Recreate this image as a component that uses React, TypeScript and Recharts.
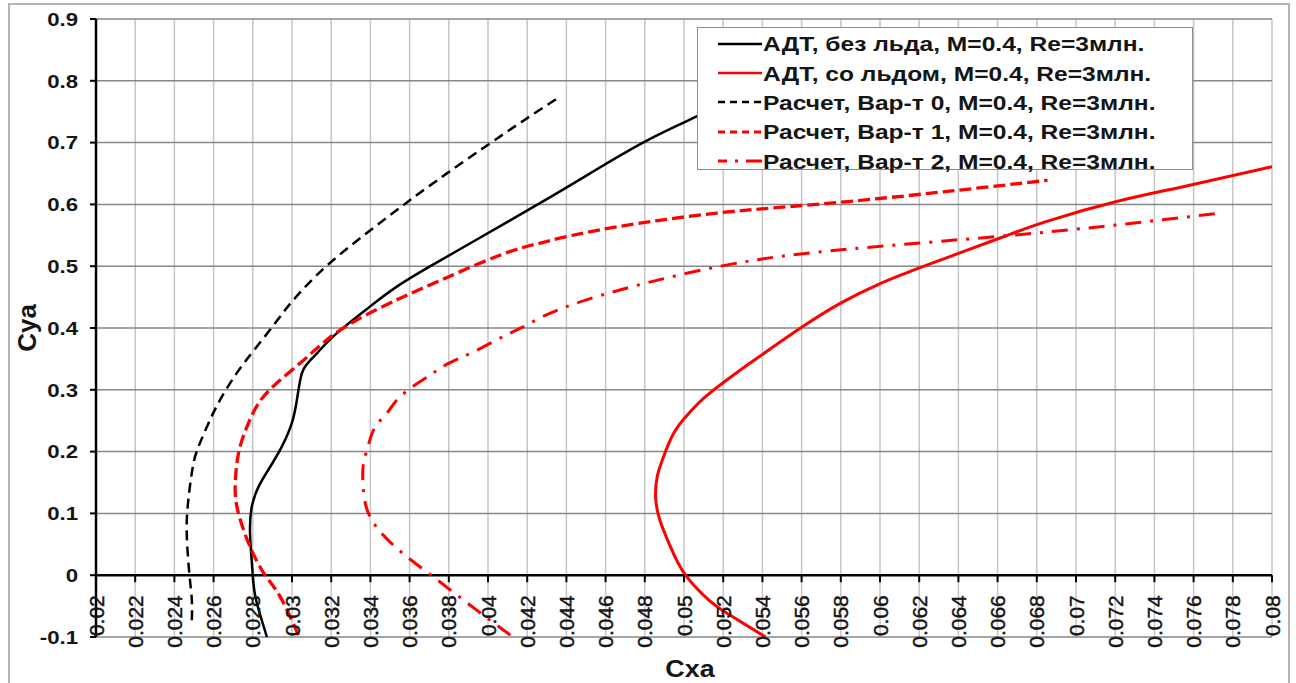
import React from 'react'
import {
  LineChart,
  Line,
  XAxis,
  YAxis,
  CartesianGrid,
  ReferenceLine,
  Legend,
  Label,
} from 'recharts'

// Cxa / Cya polars, ordered by Cya
const adtClean = [
  [0.02872, -0.1], [0.02817, -0.0405], [0.028, 0], [0.02786, 0.0675], [0.02795, 0.111],
  [0.02829, 0.143], [0.02889, 0.1755], [0.02948, 0.208], [0.02999, 0.246], [0.03025, 0.2836],
  [0.03042, 0.316], [0.03067, 0.3376], [0.03127, 0.359], [0.03229, 0.3917], [0.03399, 0.435],
  [0.03535, 0.467], [0.03706, 0.5], [0.03912, 0.5375], [0.04267, 0.6024], [0.0453, 0.652],
  [0.04803, 0.702], [0.05067, 0.743], [0.0535, 0.79],
]

const adtIced = [
  [0.05416, -0.1], [0.05221, -0.062], [0.05127, -0.0405], [0.05008, 0], [0.04931, 0.0459],
  [0.04877, 0.089], [0.04855, 0.127], [0.04863, 0.159], [0.04889, 0.186], [0.04948, 0.23],
  [0.05025, 0.262], [0.05101, 0.2864], [0.05196, 0.3107], [0.053, 0.335], [0.05409, 0.3593],
  [0.05606, 0.4024], [0.05799, 0.4403], [0.0599, 0.4703], [0.06242, 0.502], [0.06616, 0.546],
  [0.06855, 0.573], [0.07212, 0.605], [0.07552, 0.629], [0.08, 0.661],
]

const calcVar0 = [
  [0.02489, -0.073], [0.02489, -0.0405], [0.02477, 0], [0.02463, 0.0675], [0.02471, 0.1216],
  [0.02494, 0.1755], [0.02523, 0.208], [0.02574, 0.246], [0.02633, 0.2836], [0.02718, 0.327],
  [0.02821, 0.37], [0.0294, 0.4186], [0.03008, 0.4457], [0.03178, 0.5008], [0.03424, 0.564],
  [0.03606, 0.6078], [0.03794, 0.651], [0.04016, 0.7], [0.04188, 0.737], [0.0436, 0.773],
]

const calcVar1 = [
  [0.03033, -0.097], [0.0294, -0.035], [0.02863, 0], [0.02786, 0.046], [0.02727, 0.1],
  [0.0271, 0.143], [0.02727, 0.197], [0.0277, 0.24], [0.02829, 0.278], [0.02923, 0.311],
  [0.03059, 0.348], [0.03178, 0.381], [0.03331, 0.413], [0.03535, 0.4457], [0.03706, 0.47],
  [0.04046, 0.516], [0.04267, 0.5375], [0.04574, 0.559], [0.05169, 0.586], [0.0585, 0.605],
  [0.06855, 0.639],
]

const calcVar2 = [
  [0.04114, -0.097], [0.03944, -0.057], [0.03722, -0.003], [0.03544, 0.041], [0.03399, 0.094],
  [0.03362, 0.1486], [0.03365, 0.181], [0.0339, 0.211], [0.03425, 0.2404], [0.03484, 0.262],
  [0.03535, 0.2836], [0.0362, 0.306], [0.03706, 0.324], [0.03791, 0.3415], [0.0391, 0.359],
  [0.04046, 0.381], [0.04148, 0.397], [0.04216, 0.408], [0.04506, 0.446], [0.05186, 0.5],
  [0.0585, 0.528], [0.06634, 0.549], [0.07212, 0.567], [0.0774, 0.586],
]

const seriesNames = [
  'АДТ, без льда, M=0.4, Re=3млн.',
  'АДТ, со льдом, M=0.4, Re=3млн.',
  'Расчет, Вар-т 0, M=0.4, Re=3млн.',
  'Расчет, Вар-т 1, M=0.4, Re=3млн.',
  'Расчет, Вар-т 2, M=0.4, Re=3млн.',
]

const xTickLabels = [
  '0.02', '0.022', '0.024', '0.026', '0.028', '0.03', '0.032', '0.034', '0.036', '0.038',
  '0.04', '0.042', '0.044', '0.046', '0.048', '0.05', '0.052', '0.054', '0.056', '0.058',
  '0.06', '0.062', '0.064', '0.066', '0.068', '0.07', '0.072', '0.074', '0.076', '0.078', '0.08',
]
const yTickLabels = ['-0.1', '0', '0.1', '0.2', '0.3', '0.4', '0.5', '0.6', '0.7', '0.8', '0.9']

const xTicks = xTickLabels.map(Number)
const yTicks = yTickLabels.map(Number)

const FONT = '"Liberation Sans", Arial, sans-serif'
const TEXT = '#151515'
const STRETCH = 1.17 // the source picture is a bit wider than tall
const W = 1296
const H = 683
const MARGIN = { top: 19, right: 24, left: 10, bottom: 0 }
const X_AXIS_H = 46
const PLOT_H = H - MARGIN.top - MARGIN.bottom - X_AXIS_H
// the x axis crosses at Cya = 0, one tenth of the height above the bottom
const ZERO_OFFSET = PLOT_H * 0.1

const styles = [
  { color: '#000000', dash: undefined, width: 2.5, legendDash: undefined },
  { color: '#ff0000', dash: undefined, width: 3, legendDash: undefined },
  { color: '#000000', dash: '10 6', width: 2.5, legendDash: '7 5' },
  { color: '#ff0000', dash: '12 5', width: 3.3, legendDash: '7 5' },
  { color: '#ff0000', dash: '16 9 3 9', width: 3, legendDash: '9 8 3 8 16' },
]
const seriesData = [adtClean, adtIced, calcVar0, calcVar1, calcVar2].map((rows) =>
  rows.map(([cx, cy]) => ({ cx, cy }))
)

function XTick(props: any) {
  const { x, y, payload } = props
  const y0 = y - ZERO_OFFSET
  const label = xTickLabels[payload.index] ?? String(payload.value)
  return (
    <g>
      <line x1={x} x2={x} y1={y0} y2={y0 + 7} stroke="#000" strokeWidth={2} />
      <text
        transform={`translate(${x + 7.5},${y0 + 20}) rotate(-90)`}
        textAnchor="end"
        fontSize={21}
        fontFamily={FONT}
        fill={TEXT}
        stroke={TEXT}
        strokeWidth={0.45}
      >
        {label}
      </text>
    </g>
  )
}

function YTick(props: any) {
  const { x, y, payload } = props
  const label = yTickLabels[payload.index] ?? String(payload.value)
  return (
    <g transform={`translate(${x},${y}) scale(${STRETCH},1)`}>
      <text x={0} y={0} dy="0.36em" textAnchor="end" fontSize={19} fontWeight="bold" fontFamily={FONT} fill={TEXT}>
        {label}
      </text>
    </g>
  )
}

function XTitle(props: any) {
  const { x, y, width, height } = props.viewBox
  return (
    <g transform={`translate(${x + width / 2 + 6},${y + height - 6}) scale(${STRETCH},1)`}>
      <text textAnchor="middle" fontSize={23} fontWeight="bold" fontFamily={FONT} fill={TEXT}>
        Cxa
      </text>
    </g>
  )
}

function YTitle(props: any) {
  const { y, height } = props.viewBox
  return (
    <g transform={`translate(36,${y + height / 2}) rotate(-90)`}>
      <text textAnchor="middle" fontSize={26} fontWeight="bold" fontFamily={FONT} fill={TEXT}>
        Cya
      </text>
    </g>
  )
}

function LegendBox() {
  return (
    <div
      style={{
        background: '#fff',
        border: '1.5px solid #8c8c8c',
        width: 496,
        height: 143,
        boxSizing: 'border-box',
        padding: '1px 0 0 19px',
        fontFamily: FONT,
      }}
    >
      {seriesNames.map((name, i) => (
        <div key={name} style={{ display: 'flex', alignItems: 'center', height: 29.4 }}>
          <svg width={46} height={20} style={{ flex: 'none' }}>
            <line
              x1={1}
              x2={45}
              y1={10}
              y2={10}
              stroke={styles[i].color}
              strokeWidth={i === 3 || i === 4 ? 3 : 2.5}
              strokeDasharray={styles[i].legendDash}
            />
          </svg>
          <span
            style={{
              display: 'inline-block',
              fontSize: 21,
              fontWeight: 'bold',
              color: TEXT,
              whiteSpace: 'nowrap',
              lineHeight: 1,
              transform: `scaleX(${STRETCH})`,
              transformOrigin: 'left center',
            }}
          >
            {name}
          </span>
        </div>
      ))}
    </div>
  )
}

export default function App() {
  return (
    <div style={{ position: 'absolute', left: 0, top: 0, width: W, height: H, background: '#fff', fontFamily: FONT }}>
      <div
        style={{
          position: 'absolute',
          left: 8,
          top: 3,
          width: 1282,
          height: 690,
          border: '2px solid #b4b4b4',
          boxSizing: 'border-box',
        }}
      />
      <LineChart width={W} height={H} margin={MARGIN} style={{ position: 'absolute', left: 0, top: 0 }}>
        <CartesianGrid horizontal={false} stroke="#c6c6c6" strokeWidth={1.5} />
        <CartesianGrid vertical={false} stroke="#878787" strokeWidth={1.5} />
        <XAxis
          type="number"
          dataKey="cx"
          domain={[0.02, 0.08]}
          ticks={xTicks}
          interval={0}
          allowDataOverflow
          height={X_AXIS_H}
          axisLine={false}
          tickLine={false}
          tickSize={0}
          tickMargin={0}
          tick={<XTick />}
        >
          <Label content={<XTitle />} />
        </XAxis>
        <YAxis
          type="number"
          dataKey="cy"
          domain={[-0.1, 0.9]}
          ticks={yTicks}
          interval={0}
          allowDataOverflow
          width={86}
          axisLine={{ stroke: '#000', strokeWidth: 2.5 }}
          tickLine={{ stroke: '#000', strokeWidth: 2 }}
          tickSize={6}
          tickMargin={12}
          tick={<YTick />}
        >
          <Label content={<YTitle />} />
        </YAxis>
        <ReferenceLine y={0} stroke="#000" strokeWidth={2.5} />
        {seriesData.map((data, i) => (
          <Line
            key={seriesNames[i]}
            name={seriesNames[i]}
            data={data}
            dataKey="cy"
            type="natural"
            stroke={styles[i].color}
            strokeWidth={styles[i].width}
            strokeDasharray={styles[i].dash}
            dot={false}
            activeDot={false}
            isAnimationActive={false}
          />
        ))}
        <Legend
          layout="vertical"
          align="center"
          verticalAlign="middle"
          content={() => <LegendBox />}
          wrapperStyle={{ left: 697, top: 27, width: 496, height: 143 }}
        />
      </LineChart>
    </div>
  )
}
